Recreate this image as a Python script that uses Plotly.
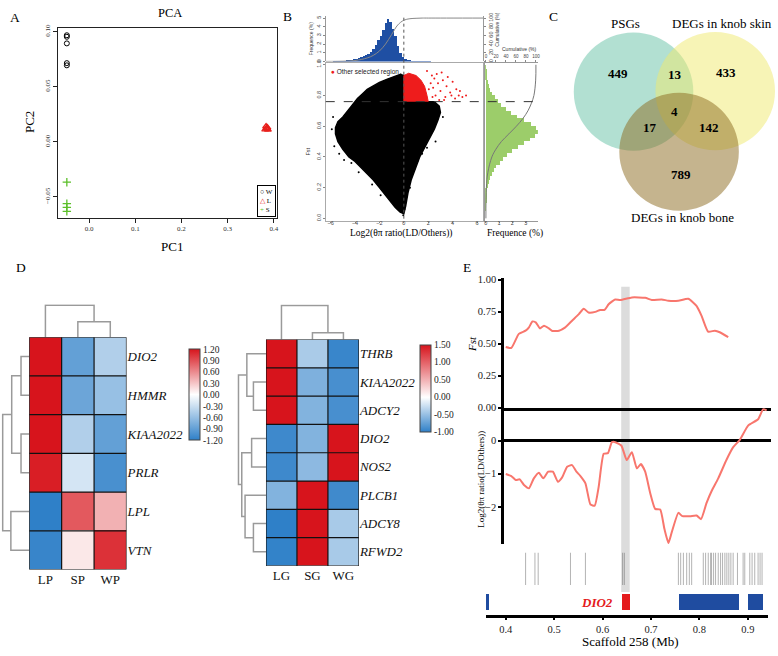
import plotly.graph_objects as go

W, H = 778, 656
def fx(p): return p / W
def fy(p): return 1 - p / H
def xdom(l, r): return [fx(l), fx(r)]
def ydom(b, t): return [fy(b), fy(t)]

SERIF = "Liberation Serif"
SANS = "Liberation Sans"

# ======================= DATA =======================
# ---- A: PCA ----
pca_W_pc1 = [-0.048, -0.048, -0.048, -0.048, -0.048]
pca_W_pc2 = [0.0967, 0.0953, 0.0893, 0.0714, 0.0694]
pca_L_pc1 = [0.381, 0.384, 0.387, 0.383, 0.386, 0.385]
pca_L_pc2 = [0.0112, 0.0125, 0.0110, 0.0140, 0.0130, 0.0118]
pca_S_pc1 = [-0.048, -0.048, -0.048, -0.048]
pca_S_pc2 = [-0.0366, -0.0560, -0.0595, -0.0631]
pca_xticks = [0.0, 0.1, 0.2, 0.3, 0.4]
pca_yticks = [-0.05, 0.0, 0.05, 0.10]
pca_yticklabels = ["\u22120.05", "0.00", "0.05", "0.10"]

# ---- B: selective sweep ----
pi_bins = [-5.9, -5.7, -5.5, -5.3, -5.1, -4.9, -4.7, -4.5, -4.3, -4.1, -3.9, -3.7, -3.5,
           -3.3, -3.1, -2.9, -2.7, -2.5, -2.3, -2.1, -1.9, -1.7, -1.5, -1.3, -1.1, -0.9,
           -0.7, -0.5, -0.3, -0.1, 0.1, 0.3, 0.5, 0.7, 0.9, 1.1, 1.3, 1.5, 1.7, 1.9, 2.1]
pi_freq = [0.00, 0.01, 0.02, 0.03, 0.04, 0.06, 0.09, 0.15, 0.20, 0.26, 0.33, 0.41, 0.50,
           0.60, 0.72, 0.90, 1.15, 1.50, 1.95, 2.45, 3.00, 3.70, 4.40, 4.95, 4.60, 3.80,
           2.90, 1.75, 1.00, 0.50, 0.26, 0.14, 0.08, 0.05, 0.03, 0.02, 0.015, 0.01, 0.01,
           0.005, 0.005]
pi_cum_x = [-6.4, -5.0, -4.0, -3.0, -2.5, -2.0, -1.5, -1.0, -0.5, 0.0, 0.5, 1.0, 1.5, 2.0, 6.5]
pi_cum_y = [0, 0.5, 2, 8, 14, 24, 40, 62, 84, 95, 98.5, 99.5, 100, 100, 100]

cloud_x = [-0.2, -0.8, -1.4, -2.0, -2.5, -3.0, -3.4, -3.8, -4.2, -4.6, -5.0, -5.4, -5.6, -5.6,
           -5.4, -5.0, -4.5, -4.0, -3.5, -3.0, -2.5, -2.0, -1.5, -1.1, -0.7, -0.3, 0.0, 0.15,
           0.35, 0.6, 0.9, 1.3, 1.7, 2.1, 2.5, 2.8, 3.0, 2.9, 2.5, 0.0, 0.0]
cloud_y = [0.94, 0.925, 0.905, 0.885, 0.865, 0.84, 0.81, 0.78, 0.74, 0.70, 0.66, 0.63, 0.59, 0.55,
           0.50, 0.45, 0.40, 0.37, 0.33, 0.29, 0.25, 0.20, 0.15, 0.11, 0.07, 0.04, 0.03, 0.08,
           0.17, 0.25, 0.32, 0.40, 0.46, 0.52, 0.58, 0.64, 0.69, 0.73, 0.76, 0.76, 0.935]
outlier_x = [-5.9, -5.7, -5.3, -4.9, -4.3, -3.7, -2.6, -1.9, 2.6, 1.9, 1.5, 1.1, 0.5, 0.05, -0.05, 3.2, -5.8]
outlier_y = [0.58, 0.47, 0.42, 0.38, 0.36, 0.30, 0.22, 0.15, 0.50, 0.46, 0.42, 0.37, 0.20, 0.06, 0.02, 0.66, 0.66]
sel_x = [0.0, 0.0, 0.4, 1.0, 1.4, 1.7, 1.9, 2.0]
sel_y = [0.76, 0.93, 0.945, 0.93, 0.90, 0.86, 0.80, 0.76]
sel_pts_x = [2.4, 2.6, 2.8, 3.0, 3.2, 3.4, 3.5, 3.8, 4.0, 4.2, 4.5, 4.8, 5.1, 2.3, 1.9, 3.1, 3.6, 2.5, 4.3, 2.9,
             2.2, 2.7, 3.3, 3.9, 4.6, 2.35, 2.05]
sel_pts_y = [0.85, 0.80, 0.88, 0.83, 0.90, 0.79, 0.86, 0.82, 0.89, 0.78, 0.80, 0.79, 0.80, 0.93, 0.96, 0.95, 0.92, 0.91, 0.84, 0.77,
             0.88, 0.94, 0.77, 0.80, 0.83, 0.79, 0.84]
fst_bins = [0.0125, 0.0375, 0.0625, 0.0875, 0.1125, 0.1375, 0.1625, 0.1875, 0.2125, 0.2375,
            0.2625, 0.2875, 0.3125, 0.3375, 0.3625, 0.3875, 0.4125, 0.4375, 0.4625, 0.4875,
            0.5125, 0.5375, 0.5625, 0.5875, 0.6125, 0.6375, 0.6625, 0.6875, 0.7125, 0.7375,
            0.7625, 0.7875, 0.8125, 0.8375, 0.8625, 0.8875, 0.9125, 0.9375, 0.9625, 0.9875]
fst_freq = [0.0, 0.0, 0.01, 0.01, 0.03, 0.04, 0.07, 0.10, 0.16, 0.23,
            0.33, 0.46, 0.62, 0.80, 1.04, 1.30, 1.62, 1.98, 2.40, 2.86,
            3.30, 3.70, 3.90, 3.77, 3.38, 2.86, 2.34, 1.88, 1.50, 1.17,
            0.91, 0.68, 0.49, 0.36, 0.26, 0.18, 0.12, 0.07, 0.03, 0.01]
fst_cum_y = [0.0, 0.2, 0.3, 0.4, 0.45, 0.5, 0.55, 0.6, 0.65, 0.7, 0.75, 0.8, 0.9, 1.0]
fst_cum_pct = [0, 1, 4, 12, 20, 31, 46, 61, 74, 84, 91, 96, 99.5, 100]
pi_threshold = 0.0
fst_threshold = 0.76

# ---- C: Venn ----
venn_sets = ["PSGs", "DEGs in knob skin", "DEGs in knob bone"]
venn_counts = [449, 13, 433, 4, 17, 142, 789]

# ---- D: heatmaps ----
hm1_cols = ["LP", "SP", "WP"]
hm1_genes = ["DIO2", "HMMR", "KIAA2022", "PRLR", "LPL", "VTN"]
hm1_values = [[1.20, -0.90, -0.45],
              [1.20, -0.85, -0.60],
              [1.20, -0.45, -0.90],
              [1.15, -0.25, -1.05],
              [-1.20, 0.85, 0.40],
              [-1.15, 0.12, 1.05]]
hm1_ticks = [1.2, 0.9, 0.6, 0.3, 0.0, -0.3, -0.6, -0.9, -1.2]
hm1_col_merges = [(1, 2, 0.47), (0, 3, 0.97)]
hm1_row_merges = [(0, 1, 0.29), (2, 3, 0.29), (6, 7, 0.62), (4, 5, 0.65), (8, 9, 0.94)]

hm2_cols = ["LG", "SG", "WG"]
hm2_genes = ["THRB", "KIAA2022", "ADCY2", "DIO2", "NOS2", "PLCB1", "ADCY8", "RFWD2"]
hm2_values = [[1.50, -0.41, -0.95],
              [1.50, -0.62, -0.88],
              [1.50, -0.60, -0.88],
              [-0.93, -0.60, 1.50],
              [-0.93, -0.55, 1.50],
              [-0.60, 1.50, -0.92],
              [-1.00, 1.50, -0.42],
              [-0.98, 1.50, -0.42]]
hm2_ticks = [1.5, 1.0, 0.5, 0.0, -0.5, -1.0]
hm2_col_merges = [(1, 2, 0.19), (0, 3, 0.97)]
hm2_row_merges = [(1, 2, 0.42), (0, 8, 0.64), (3, 4, 0.48), (6, 7, 0.42),
                  (5, 11, 0.70), (10, 12, 0.81), (9, 13, 0.92)]

# ---- E: DIO2 region ----
fst_pos = [0.400, 0.4116, 0.427, 0.441, 0.448, 0.455, 0.462, 0.4706, 0.479, 0.489, 0.496, 0.510,
           0.523, 0.537, 0.551, 0.561, 0.571, 0.585, 0.595, 0.604, 0.6125, 0.626, 0.6366, 0.6605,
           0.688, 0.7017, 0.722, 0.736, 0.7566, 0.777, 0.794, 0.8045, 0.818, 0.832, 0.842, 0.8595]
fst_val = [0.474, 0.467, 0.577, 0.602, 0.628, 0.674, 0.667, 0.620, 0.641, 0.620, 0.600, 0.602,
           0.628, 0.680, 0.731, 0.774, 0.744, 0.749, 0.764, 0.764, 0.808, 0.846, 0.841, 0.862,
           0.859, 0.841, 0.846, 0.836, 0.836, 0.851, 0.795, 0.718, 0.595, 0.602, 0.590, 0.551]
pi_pos = [0.400, 0.4116, 0.4206, 0.4288, 0.4377, 0.448, 0.458, 0.4685, 0.4774, 0.4877, 0.4973,
          0.5076, 0.5165, 0.5268, 0.537, 0.546, 0.5543, 0.5646, 0.575, 0.5838, 0.592, 0.6023,
          0.6111, 0.6193, 0.6263, 0.6387, 0.650, 0.6605, 0.6708, 0.679, 0.688, 0.6983, 0.7086,
          0.719, 0.7278, 0.736, 0.7428, 0.7566, 0.7648, 0.7807, 0.7942, 0.8033, 0.8148, 0.825,
          0.8389, 0.856, 0.8698, 0.8835, 0.9006, 0.9212, 0.9315, 0.939]
pi_val = [-1.01, -1.07, -1.19, -1.17, -1.34, -1.44, -1.14, -0.97, -1.14, -0.94, -0.94,
          -1.24, -1.11, -0.79, -0.74, -0.94, -1.07, -1.29, -1.93, -1.96, -1.39, -0.40,
          -0.38, -0.05, -0.05, -0.15, -0.59, -0.35, -0.84, -0.71, -0.94, -1.58, -2.06,
          -2.08, -2.67, -3.09, -2.77, -2.18, -2.28, -2.28, -2.26, -2.37, -1.88, -1.53,
          -1.14, -0.58, -0.20, 0.02, 0.45, 0.64, 0.94, 0.91]
snp_pos = [0.441, 0.4603, 0.467, 0.5337, 0.5646, 0.6414, 0.6449, 0.7566, 0.7613, 0.7669,
           0.7737, 0.7792, 0.784, 0.808, 0.8128, 0.8183, 0.8231, 0.8251, 0.8293, 0.8334,
           0.8389, 0.8437, 0.8478, 0.8526, 0.8567, 0.8608, 0.865, 0.8697, 0.8786, 0.8903,
           0.8937, 0.904, 0.9088, 0.9143, 0.9212, 0.9253, 0.9294]
gene_name = ["g1", "DIO2", "g3", "g4"]
gene_start = [0.3600, 0.6387, 0.7566, 0.9006]
gene_end = [0.3640, 0.6572, 0.8815, 0.9315]
dio2_region = [0.6385, 0.6560]

# ======================= FIGURE =======================
fig = go.Figure()
RED = "#e8201c"
GREEN = "#5cbf2a"

# ---- A ----
fig.add_trace(go.Scatter(x=pca_W_pc1, y=pca_W_pc2, mode="markers", xaxis="x", yaxis="y",
                         marker=dict(symbol="circle-open", size=5, color="black", line=dict(width=1))))
fig.add_trace(go.Scatter(x=pca_L_pc1, y=pca_L_pc2, mode="markers", xaxis="x", yaxis="y",
                         marker=dict(symbol="triangle-up-open", size=6, color=RED, line=dict(width=1.2))))
fig.add_trace(go.Scatter(x=pca_S_pc1, y=pca_S_pc2, mode="markers", xaxis="x", yaxis="y",
                         marker=dict(symbol="cross-thin-open", size=6, color=GREEN, line=dict(width=1.3, color=GREEN))))

# ---- B ----
fig.add_trace(go.Bar(x=pi_bins, y=pi_freq, width=0.2, xaxis="x3", yaxis="y3",
                     marker=dict(color="#1f4fa3", line=dict(width=0))))
fig.add_trace(go.Scatter(x=pi_cum_x, y=pi_cum_y, mode="lines", xaxis="x3", yaxis="y4",
                         line=dict(color="#888", width=1, shape="spline")))
fig.add_trace(go.Scatter(x=cloud_x, y=cloud_y, mode="lines", fill="toself", fillcolor="black",
                         line=dict(color="black", width=1.5), xaxis="x2", yaxis="y2"))
fig.add_trace(go.Scatter(x=outlier_x, y=outlier_y, mode="markers", xaxis="x2", yaxis="y2",
                         marker=dict(color="black", size=2)))
fig.add_trace(go.Scatter(x=sel_x, y=sel_y, mode="lines", fill="toself", fillcolor="#ee1c1c",
                         line=dict(color="#ee1c1c", width=1), xaxis="x2", yaxis="y2"))
fig.add_trace(go.Scatter(x=sel_pts_x, y=sel_pts_y, mode="markers", xaxis="x2", yaxis="y2",
                         marker=dict(color="#ee1c1c", size=2)))
fig.add_trace(go.Bar(y=fst_bins, x=fst_freq, width=0.025, orientation="h", xaxis="x5", yaxis="y5",
                     marker=dict(color="#9ccd6a", line=dict(width=0))))
fig.add_trace(go.Scatter(x=fst_cum_pct, y=fst_cum_y, mode="lines", xaxis="x6", yaxis="y5",
                         line=dict(color="#777", width=1, shape="spline")))

# ---- D: heatmaps & dendrograms ----
CSCALE1 = [[0, "#2f80c8"], [0.5, "#ffffff"], [1, "#d7141c"]]
CSCALE2 = [[0, "#2f80c8"], [0.4, "#ffffff"], [1, "#d7141c"]]

def dendro_xy(n, merges):
    pos = list(range(n)); hgt = [0.0] * n
    p, h = [], []
    for a, b, hh in merges:
        p += [pos[a], pos[a], pos[b], pos[b], None]
        h += [hgt[a], hh, hh, hgt[b], None]
        pos.append((pos[a] + pos[b]) / 2); hgt.append(hh)
    return p, h

fig.add_trace(go.Heatmap(z=hm1_values, x=list(range(len(hm1_cols))), y=list(range(len(hm1_genes))),
                         xaxis="x8", yaxis="y8", colorscale=CSCALE1, zmin=-1.2, zmax=1.2,
                         colorbar=dict(x=fx(189), xanchor="left", y=fy(350.7), yanchor="top",
                                       len=(443.3 - 350.7) / H, lenmode="fraction", thickness=11,
                                       xpad=0, ypad=0, outlinewidth=1, outlinecolor="#444",
                                       tickvals=hm1_ticks, ticktext=["%.2f" % t for t in hm1_ticks],
                                       ticks="", tickfont=dict(family=SERIF, size=9.5, color="#222"))))
fig.add_trace(go.Heatmap(z=hm2_values, x=list(range(len(hm2_cols))), y=list(range(len(hm2_genes))),
                         xaxis="x11", yaxis="y11", colorscale=CSCALE2, zmin=-1.0, zmax=1.5,
                         colorbar=dict(x=fx(420.7), xanchor="left", y=fy(346), yanchor="top",
                                       len=(434.3 - 346) / H, lenmode="fraction", thickness=11,
                                       xpad=0, ypad=0, outlinewidth=1, outlinecolor="#444",
                                       tickvals=hm2_ticks, ticktext=["%.2f" % t for t in hm2_ticks],
                                       ticks="", tickfont=dict(family=SERIF, size=9.5, color="#222"))))
DCOL = "#9a9a9a"
p, h = dendro_xy(len(hm1_cols), hm1_col_merges)
fig.add_trace(go.Scatter(x=p, y=h, mode="lines", xaxis="x9", yaxis="y9", line=dict(color=DCOL, width=1.5)))
p, h = dendro_xy(len(hm1_genes), hm1_row_merges)
fig.add_trace(go.Scatter(x=h, y=p, mode="lines", xaxis="x10", yaxis="y10", line=dict(color=DCOL, width=1.5)))
p, h = dendro_xy(len(hm2_cols), hm2_col_merges)
fig.add_trace(go.Scatter(x=p, y=h, mode="lines", xaxis="x12", yaxis="y12", line=dict(color=DCOL, width=1.5)))
p, h = dendro_xy(len(hm2_genes), hm2_row_merges)
fig.add_trace(go.Scatter(x=h, y=p, mode="lines", xaxis="x13", yaxis="y13", line=dict(color=DCOL, width=1.5)))

# ---- E ----
LINE_RED = "#F8766D"
fig.add_trace(go.Scatter(x=fst_pos, y=fst_val, mode="lines", xaxis="x14", yaxis="y14",
                         line=dict(color=LINE_RED, width=2, shape="spline", smoothing=0.5)))
fig.add_trace(go.Scatter(x=pi_pos, y=pi_val, mode="lines", xaxis="x15", yaxis="y15",
                         line=dict(color=LINE_RED, width=2, shape="spline", smoothing=0.5)))
sx, sy = [], []
for s in snp_pos:
    sx += [s, s, None]; sy += [0, 1, None]
fig.add_trace(go.Scatter(x=sx, y=sy, mode="lines", xaxis="x16", yaxis="y16",
                         line=dict(color="rgba(80,80,80,0.55)", width=0.8)))
fig.add_trace(go.Bar(y=[0.535] * len(gene_name), x=[e - s for s, e in zip(gene_start, gene_end)],
                     base=gene_start, orientation="h", width=0.65, xaxis="x17", yaxis="y17",
                     marker=dict(color=["#e41a1c" if g == "DIO2" else "#1f4ca0" for g in gene_name],
                                 line=dict(width=0))))

# ======================= SHAPES =======================
shapes = []
shapes.append(dict(type="line", xref="x2", x0=pi_threshold, x1=pi_threshold, yref="paper",
                   y0=fy(218), y1=fy(12), line=dict(color="#555", width=1, dash="dot")))
shapes.append(dict(type="line", xref="paper", x0=fx(326), x1=fx(540), yref="y2",
                   y0=fst_threshold, y1=fst_threshold, line=dict(color="#333", width=1, dash="dash")))
VENN_GEOM = [(635, 89, 60, "rgba(102,194,165,0.5)"),
             (717, 88.5, 60, "rgba(240,234,110,0.5)"),
             (680.7, 150, 60, "rgba(139,105,30,0.5)")]
for cx, cy, r, col in VENN_GEOM:
    shapes.append(dict(type="circle", xref="paper", yref="paper", x0=fx(cx - r), x1=fx(cx + r),
                       y0=fy(cy + r), y1=fy(cy - r), fillcolor=col, line=dict(width=0)))
for xa, ya, nc, nr in [("x8", "y8", len(hm1_cols), len(hm1_genes)), ("x11", "y11", len(hm2_cols), len(hm2_genes))]:
    for i in range(nc + 1):
        shapes.append(dict(type="line", xref=xa, yref=ya, x0=i - 0.5, x1=i - 0.5, y0=-0.5, y1=nr - 0.5,
                           line=dict(color="#111", width=1.2)))
    for j in range(nr + 1):
        shapes.append(dict(type="line", xref=xa, yref=ya, x0=-0.5, x1=nc - 0.5, y0=j - 0.5, y1=j - 0.5,
                           line=dict(color="#111", width=1.2)))
shapes.append(dict(type="rect", xref="x14", x0=dio2_region[0], x1=dio2_region[1], yref="paper",
                   y0=fy(597), y1=fy(287), fillcolor="#dcdcdc", line=dict(width=0), layer="below"))

# ======================= ANNOTATIONS =======================
ann = []
def txt(x, y, t, size=12, family=SERIF, color="black", angle=0, xanchor="center", yanchor="middle", **kw):
    d = dict(x=fx(x), y=fy(y), xref="paper", yref="paper", text=t, showarrow=False,
             font=dict(family=family, size=size, color=color), textangle=angle,
             xanchor=xanchor, yanchor=yanchor)
    d.update(kw)
    ann.append(d)

for L, (x, y) in zip("ABCDE", [(14, 14), (288, 13), (555, 13), (20, 268), (468, 268)]):
    txt(x, y, L, size=13.5)
txt(170, 9, "PCA", size=12.5)
txt(172, 246, "PC1", size=13)
txt(28, 120, "PC2", size=13, angle=-90)
txt(276.5, 216.5, '<span style="color:black">\u25cb</span> W<br><span style="color:%s">\u25b3</span> L<br>'
    '<span style="color:%s">+</span> S' % (RED, GREEN), size=7, xanchor="right", yanchor="bottom",
    align="left", bordercolor="black", borderwidth=1, borderpad=2, bgcolor="white")
txt(312, 35, "Frequence (%)", size=5, family=SANS, color="#333", angle=-90)
txt(498, 26, "Cumulative (%)", size=5, family=SANS, color="#333", angle=-90)
txt(521, 46, "Cumulative (%)", size=5, family=SANS, color="#333")
txt(308, 150, "Fst", size=5.5, family=SANS, color="#333", angle=-90)
txt(329, 69, '<span style="color:#ee1c1c">\u25cf</span> Other selected region', size=6.5,
    family=SANS, color="#222", xanchor="left")
txt(401.7, 233, "Log2(\u03b8\u03c0 ratio(LD/Others))", size=9.5)
txt(516, 233, "Frequence (%)", size=9.5)
for (x, y), t in zip([(626.7, 20), (724, 20), (684, 217)], venn_sets):
    txt(x, y, t, size=13)
VENN_NUM_POS = [(619.3, 71), (676.7, 71.7), (728.3, 70), (675.7, 108.7), (651.7, 125.3), (711, 125), (682.3, 173)]
for (x, y), c in zip(VENN_NUM_POS, venn_counts):
    txt(x, y, "<b>%d</b>" % c, size=13)
txt(473, 345, "<i>Fst</i>", size=11, angle=-90)
txt(481, 483, "Log2(\u03b8\u03c0 ratio(LD/Others))", size=9, angle=-90)
txt(616.7, 607.3, "<b><i>DIO2</i></b>", size=13, color="#e41a1c", xanchor="right")
txt(631.7, 647, "Scaffold 258 (Mb)", size=13)

# ======================= AXES =======================
def base(**kw):
    d = dict(showgrid=False, zeroline=False)
    d.update(kw)
    return d

hidden = dict(visible=False, showgrid=False, zeroline=False)
A_tick = dict(family=SERIF, size=7, color="#333")
B_tick = dict(family=SANS, size=5.5, color="#444")
E_tick = dict(family=SERIF, size=10.5, color="#222")

layout_axes = dict(
    xaxis=base(domain=xdom(57, 277), range=[-0.0676, 0.4065], anchor="y", showline=True, mirror=True,
               linecolor="#222", linewidth=1, ticks="outside", ticklen=4, tickcolor="#222",
               tickvals=pca_xticks, ticktext=["%.1f" % t for t in pca_xticks], tickfont=A_tick),
    yaxis=base(domain=ydom(217, 24), range=[-0.0688, 0.1036], anchor="x", showline=True, mirror=True,
               linecolor="#222", linewidth=1, ticks="outside", ticklen=4, tickcolor="#222",
               tickvals=pca_yticks, ticktext=pca_yticklabels, tickangle=-90, tickfont=A_tick),
    xaxis2=base(domain=xdom(326, 484), range=[-6.4, 6.5], anchor="y2", showline=True, mirror=True,
                linecolor="#aaa", linewidth=1, ticks="outside", ticklen=1, tickcolor="#888",
                tickvals=[-6, -4, -2, 0, 2, 4, 6], tickfont=B_tick, ticklabelstandoff=-4),
    yaxis2=base(domain=ydom(220, 60), range=[-0.015, 1.011], anchor="x2", showline=True, mirror=True,
                linecolor="#aaa", linewidth=1, ticks="outside", ticklen=2, tickcolor="#888",
                tickvals=[0, 0.2, 0.4, 0.6, 0.8, 1.0], ticktext=["0.0", "0.2", "0.4", "0.6", "0.8", "1.0"],
                tickangle=-90, tickfont=B_tick),
    xaxis3=base(domain=xdom(326, 484), range=[-6.4, 6.5], anchor="y3", showticklabels=False, ticks=""),
    yaxis3=base(domain=ydom(58.3, 12), range=[0, 5.26], anchor="x3", showline=True, linecolor="#999",
                ticks="outside", ticklen=2, tickcolor="#888", tickvals=[0, 1, 2, 3, 4, 5],
                tickangle=-90, tickfont=B_tick),
    yaxis4=base(overlaying="y3", side="right", range=[0, 105.2], anchor="x3", showline=True,
                linecolor="#999", ticks="outside", ticklen=2, tickcolor="#888",
                tickvals=[0, 20, 40, 60, 80, 100], tickangle=-90, tickfont=B_tick),
    xaxis5=base(domain=xdom(486, 539), range=[-0.05, 3.92], anchor="y5", showline=True, linecolor="#999",
                ticks="outside", ticklen=1, tickcolor="#888", tickvals=[0, 1, 2, 3], tickfont=B_tick,
                ticklabelstandoff=-4),
    yaxis5=base(domain=ydom(220, 60), range=[-0.015, 1.011], anchor="x5", showline=True,
                linecolor="#999", showticklabels=False, ticks=""),
    xaxis6=base(overlaying="x5", side="top", range=[-1.5, 104], anchor="y5", showline=True,
                linecolor="#999", ticks="outside", ticklen=2, tickcolor="#888",
                tickvals=[0, 20, 40, 60, 80, 100], tickfont=dict(family=SANS, size=4.5, color="#444")),
    xaxis8=base(domain=xdom(28.3, 126), range=[-0.5, 2.5], anchor="y8", tickvals=[0, 1, 2],
                ticktext=hm1_cols, ticks="", tickfont=dict(family=SERIF, size=13, color="#111")),
    yaxis8=base(domain=ydom(574.3, 338.3), range=[5.5, -0.5], anchor="x8", side="right",
                tickvals=list(range(len(hm1_genes))), ticktext=["<i>%s</i>" % g for g in hm1_genes],
                ticks="", tickfont=dict(family=SERIF, size=13, color="#111")),
    xaxis9=dict(hidden, domain=xdom(28.3, 126), range=[-0.5, 2.5], anchor="y9"),
    yaxis9=dict(hidden, domain=ydom(338.3, 305), range=[0, 1], anchor="x9"),
    xaxis10=dict(hidden, domain=xdom(0, 28.3), range=[1, 0], anchor="y10"),
    yaxis10=dict(hidden, domain=ydom(574.3, 338.3), range=[5.5, -0.5], anchor="x10"),
    xaxis11=base(domain=xdom(266, 359.3), range=[-0.5, 2.5], anchor="y11", tickvals=[0, 1, 2],
                 ticktext=hm2_cols, ticks="", tickfont=dict(family=SERIF, size=13, color="#111")),
    yaxis11=base(domain=ydom(570.7, 340.7), range=[7.5, -0.5], anchor="x11", side="right",
                 tickvals=list(range(len(hm2_genes))), ticktext=["<i>%s</i>" % g for g in hm2_genes],
                 ticks="", tickfont=dict(family=SERIF, size=13, color="#111")),
    xaxis12=dict(hidden, domain=xdom(266, 359.3), range=[-0.5, 2.5], anchor="y12"),
    yaxis12=dict(hidden, domain=ydom(340.7, 305), range=[0, 1], anchor="x12"),
    xaxis13=dict(hidden, domain=xdom(236, 266), range=[1, 0], anchor="y13"),
    yaxis13=dict(hidden, domain=ydom(570.7, 340.7), range=[7.5, -0.5], anchor="x13"),
    xaxis14=base(domain=xdom(505, 772.7), range=[0.3965, 0.9473], anchor="y14", showline=True,
                 linecolor="black", linewidth=2.5, showticklabels=False, ticks=""),
    yaxis14=base(domain=ydom(410, 278), range=[0, 1.0154], anchor="x14", showline=True,
                 linecolor="black", linewidth=2.5, ticks="outside", ticklen=3, tickwidth=1.5,
                 tickcolor="black", tickvals=[0, 0.25, 0.5, 0.75, 1.0],
                 ticktext=["0.00", "0.25", "0.50", "0.75", "1.00"], tickfont=E_tick),
    xaxis15=dict(hidden, domain=xdom(505, 772.7), range=[0.3965, 0.9473], anchor="y15"),
    yaxis15=dict(showgrid=False, domain=ydom(548.4, 409.6), range=[-3.12, 1.0], anchor="x15",
                 showline=True, linecolor="black", linewidth=2.5, ticks="outside", ticklen=3,
                 tickwidth=1.5, tickcolor="black", tickvals=[0, -1, -2],
                 ticktext=["0", "\u22121", "\u22122"], tickfont=E_tick,
                 zeroline=True, zerolinecolor="black", zerolinewidth=2.5),
    xaxis16=dict(hidden, domain=xdom(505, 772.7), range=[0.3965, 0.9473], anchor="y16"),
    yaxis16=dict(hidden, domain=ydom(590, 557), range=[0, 1], anchor="x16"),
    xaxis17=base(domain=xdom(486.7, 770), range=[0.3588, 0.9417], anchor="y17", showline=True,
                 linecolor="black", linewidth=2.5, ticks="outside", ticklen=3, tickwidth=1.5,
                 tickcolor="black", tickvals=[0.4, 0.5, 0.6, 0.7, 0.8, 0.9],
                 ticktext=["0.4", "0.5", "0.6", "0.7", "0.8", "0.9"], tickfont=E_tick),
    yaxis17=dict(hidden, domain=ydom(620, 596), range=[0, 1], anchor="x17"),
)

fig.update_layout(width=W, height=H, autosize=False, margin=dict(l=0, r=0, t=0, b=0),
                  paper_bgcolor="white", plot_bgcolor="rgba(0,0,0,0)", showlegend=False,
                  bargap=0, shapes=shapes, annotations=ann, **layout_axes)
fig.write_html("out.html", config={"displayModeBar": False},
               post_script="document.body.style.margin='0';document.body.style.padding='0';")
